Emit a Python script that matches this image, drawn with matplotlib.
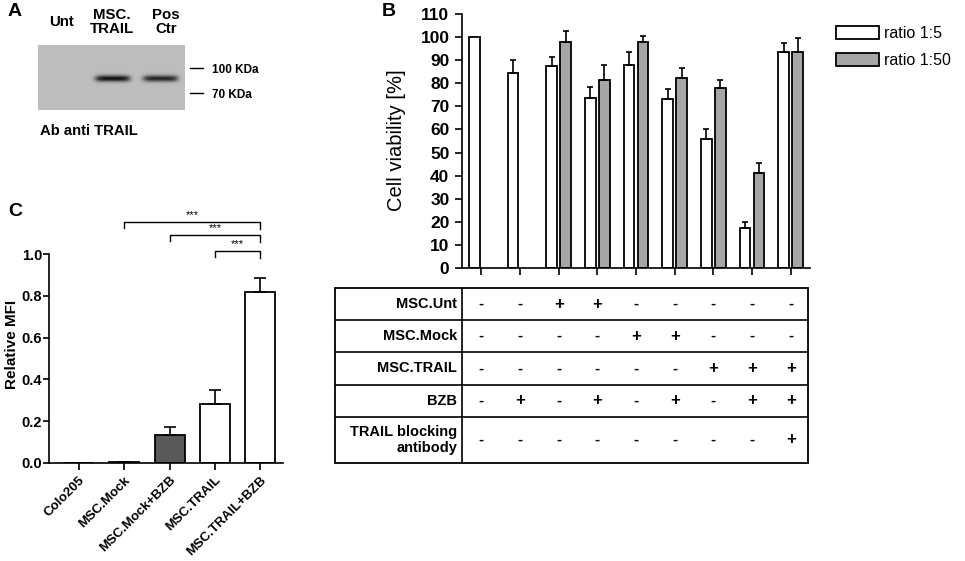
import numpy as np
import matplotlib
matplotlib.use("Agg")
import matplotlib.pyplot as plt
from matplotlib.lines import Line2D
from matplotlib.patches import Rectangle
from matplotlib.transforms import blended_transform_factory

plt.rcParams['font.family'] = ['Liberation Sans', 'DejaVu Sans']

W, H = 965, 561

# ----------- data ---------------#
# panel A (western blot)
lanes = ['Unt', 'MSC.\nTRAIL', 'Pos\nCtr']
band_intensity = [0.0, 1.0, 0.9]
markers = ['100 KDa', '70 KDa']

# panel B
groups = np.arange(9)
ratio_5 = [100, 84.5, 87.5, 73.5, 88, 73, 56, 17.4, 93.5]
ratio_5_err = [0, 5.5, 4, 5, 5.5, 4.5, 4, 2.6, 4]
ratio_50 = [np.nan, np.nan, 98, 81.5, 98, 82.5, 78, 41, 93.5]
ratio_50_err = [0, 0, 4.5, 6.5, 2.5, 4, 3.5, 4.5, 6]
row_labels = ['MSC.Unt', 'MSC.Mock', 'MSC.TRAIL', 'BZB', 'TRAIL blocking\nantibody']
table = [
    '--++-----',
    '----++---',
    '------+++',
    '-+-+-+-++',
    '--------+',
]

# panel C
categories = ['Colo205', 'MSC.Mock', 'MSC.Mock+BZB', 'MSC.TRAIL', 'MSC.TRAIL+BZB']
mfi = [0, 0.003, 0.135, 0.28, 0.82]
mfi_err = [0, 0.002, 0.035, 0.067, 0.063]
mfi_colors = ['white', 'white', '#595959', 'white', 'white']
sig_pairs = [(1, 4), (2, 4), (3, 4)]


fig = plt.figure(figsize=(W / 100, H / 100), dpi=100)


def px_axes(x0, y0, x1, y1):
    return fig.add_axes([x0 / W, 1 - y1 / H, (x1 - x0) / W, (y1 - y0) / H])


def px_text(x, y, s, **kw):
    fig.text(x / W, 1 - y / H, s, **kw)


def px_line(x0, y0, x1, y1, **kw):
    fig.add_artist(Line2D([x0 / W, x1 / W], [1 - y0 / H, 1 - y1 / H],
                          transform=fig.transFigure, color='k', **kw))


# ----------- A ---------------#
axA = px_axes(38, 45, 185, 110)
ny, nx = 65, 147
img = np.full((ny, nx), 0.74)
yy, xx = np.mgrid[0:ny, 0:nx]
lane_x = np.linspace(0.18, 0.83, len(lanes)) * nx
for cx, inten in zip(lane_x, band_intensity):
    prof = np.exp(-((xx - cx) / 17.5) ** 6) * np.exp(-((yy - 33) / 3.2) ** 2)
    img -= 0.66 * inten * prof
axA.imshow(img, cmap='gray', vmin=0, vmax=1, aspect='auto', interpolation='bilinear')
axA.set_xticks([])
axA.set_yticks([])
for s in axA.spines.values():
    s.set_visible(False)

for lx, name in zip([61, 112, 166], lanes):
    px_text(lx, 22, name, ha='center', va='center', fontsize=10.8,
            fontweight='bold', linespacing=1.05)
for my, name in zip([68, 93], markers):
    px_line(190, my, 203, my, lw=1)
    px_text(212, my + 2, name, ha='left', va='center', fontsize=8.5, fontweight='bold')
px_text(40, 131, 'Ab anti TRAIL', ha='left', va='center', fontsize=10.7, fontweight='bold')

# ----------- B ---------------#
axB = px_axes(462, 14, 810, 268)
bw, off = 0.28, 0.18
r5 = np.array(ratio_5)
r50 = np.array(ratio_50)
axB.bar(groups - off, r5, bw, color='white', edgecolor='k', lw=1.3, label='ratio 1:5')
m = ~np.isnan(r50)
axB.bar(groups[m] + off, r50[m], bw, color='#a6a6a6', edgecolor='k', lw=1.3, label='ratio 1:50')
e5 = np.array(ratio_5_err)
k = e5 > 0
axB.errorbar(groups[k] - off, r5[k], yerr=[np.zeros(k.sum()), e5[k]], fmt='none',
             ecolor='k', elinewidth=1.2, capsize=2.5, capthick=1.2)
e50 = np.array(ratio_50_err)
axB.errorbar(groups[m] + off, r50[m], yerr=[np.zeros(m.sum()), e50[m]], fmt='none',
             ecolor='k', elinewidth=1.2, capsize=2.5, capthick=1.2)
axB.set_xlim(-0.5, 8.5)
axB.set_ylim(0, 110)
axB.set_yticks(np.arange(0, 111, 10))
axB.set_xticks(groups)
axB.set_xticklabels([])
axB.tick_params(axis='y', labelsize=12.5, length=5, width=1.2, pad=4)
axB.tick_params(axis='x', length=5, width=1.2)
for lab in axB.get_yticklabels():
    lab.set_fontweight('bold')
for s in ['top', 'right']:
    axB.spines[s].set_visible(False)
for s in ['left', 'bottom']:
    axB.spines[s].set_linewidth(1.2)
px_text(396, 140, 'Cell viability [%]', rotation=90, ha='center', va='center', fontsize=14.5)
axB.legend(loc='upper left', bbox_to_anchor=(836 / W, 1 - 26 / H),
           bbox_transform=fig.transFigure, frameon=False, fontsize=11.5,
           handlelength=2.7, handleheight=0.9, handletextpad=0.3,
           labelspacing=0.75, borderaxespad=0, borderpad=0)

# table under panel B
axT = px_axes(335, 288, 808, 463)
axT.set_xlim(0, 1)
axT.set_ylim(0, 1)
axT.axis('off')
axT.add_patch(Rectangle((0, 0), 1, 1, fill=False, lw=1.3, ec='k', clip_on=False))
row_edges = [1, 0.817, 0.634, 0.446, 0.263, 0]
for yv in row_edges[1:-1]:
    axT.plot([0, 1], [yv, yv], color='k', lw=1.2)
sep = (462 - 335) / (808 - 335)
axT.plot([sep, sep], [0, 1], color='k', lw=1.2)
trans = blended_transform_factory(axB.transData, axT.transAxes)
for i, (lab, row) in enumerate(zip(row_labels, table)):
    yc = (row_edges[i] + row_edges[i + 1]) / 2
    axT.text(sep - 0.01, yc, lab, ha='right', va='center', fontsize=10.5,
             fontweight='bold', linespacing=1.1)
    for g, ch in zip(groups, row):
        axT.text(g, yc, ch, transform=trans, ha='center', va='center',
                 fontsize=12 if ch == '+' else 11, fontweight='bold')

# ----------- C ---------------#
axC = px_axes(49, 254, 283, 463)
xc = np.arange(len(categories))
axC.bar(xc, mfi, 0.66, color=mfi_colors, edgecolor='k', lw=1.3)
ke = np.array(mfi_err) > 0
axC.errorbar(xc[ke], np.array(mfi)[ke], yerr=[np.zeros(ke.sum()), np.array(mfi_err)[ke]],
             fmt='none', ecolor='k', elinewidth=1.2, capsize=4, capthick=1.2)
axC.set_xlim(-0.66, 4.5)
axC.set_ylim(0, 1.0)
axC.set_yticks(np.arange(0, 1.01, 0.2))
axC.set_yticklabels(['%.1f' % v for v in np.arange(0, 1.01, 0.2)])
axC.set_xticks(xc)
axC.set_xticklabels(categories, rotation=45, ha='right', rotation_mode='anchor')
axC.tick_params(axis='y', labelsize=10.5, length=4, width=1.2, pad=1)
axC.tick_params(axis='x', labelsize=9.5, length=5, width=1.2, pad=3)
for lab in axC.get_yticklabels() + axC.get_xticklabels():
    lab.set_fontweight('bold')
for s in ['top', 'right']:
    axC.spines[s].set_visible(False)
for s in ['left', 'bottom']:
    axC.spines[s].set_linewidth(1.2)
px_text(12, 344, 'Relative MFI', rotation=90, ha='center', va='center',
        fontsize=11, fontweight='bold')

levels = [1.153, 1.091, 1.014]
for (a, b), lv in zip(sig_pairs, levels):
    axC.plot([a, a, b, b], [lv - 0.03, lv, lv, lv - 0.035], color='k', lw=1,
             clip_on=False)
    axC.text((a + b) / 2, lv + 0.01, '***', ha='center', va='bottom', fontsize=8)

# panel letters
px_text(8, 12, 'A', ha='left', va='center', fontsize=14, fontweight='bold')
px_text(382, 12, 'B', ha='left', va='center', fontsize=14, fontweight='bold')
px_text(8, 212, 'C', ha='left', va='center', fontsize=14, fontweight='bold')

fig.savefig('out.png', dpi=100)
